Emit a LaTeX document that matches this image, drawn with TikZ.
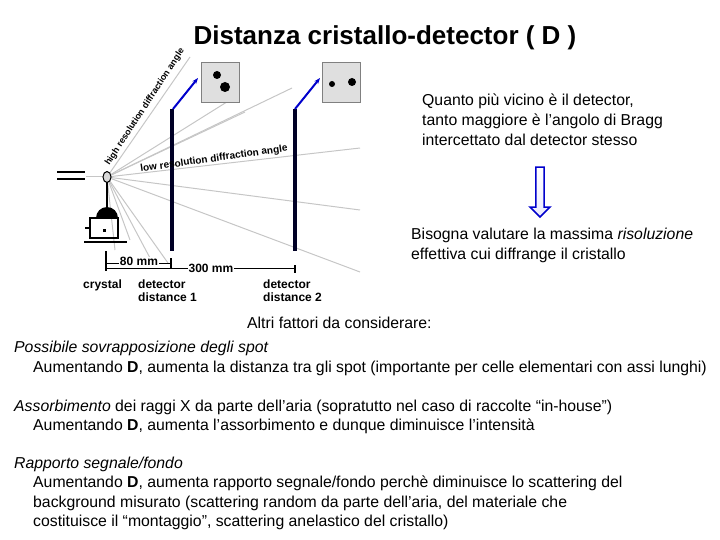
\documentclass[tikz,border=0pt]{standalone}
\usepackage{fontspec}
\setmainfont{Liberation Sans}
\usetikzlibrary{arrows.meta,shapes.arrows}
\begin{document}
\begin{tikzpicture}[x=1pt,y=-1pt,
  txt/.style={anchor=west,inner sep=0pt,font=\fontsize{15.8}{19.5}\selectfont},
  rtxt/.style={inner sep=0pt,align=left,anchor=north west,font=\fontsize{15.8}{20}\selectfont},
  lbl/.style={inner sep=0pt,font=\fontsize{12}{12.5}\selectfont\bfseries},
  ray/.style={gray!45,line width=1pt},
  det/.style={line width=4pt,draw=black!85!blue},
  blue/.style={draw=blue!80!black,line width=2pt,-{Stealth[length=6pt]}}]
\useasboundingbox (0,0) rectangle (720,540);
\node[inner sep=0pt,font=\fontsize{26}{28}\selectfont\bfseries] (title) at (385,38) {Distanza cristallo-detector ( D )};
% rays
\coordinate (c) at (107,177);
\foreach \p in {(190,57),(292,88),(230,100),(360,148),(360,210),(360,272),(168,263),(130,240),(150,258),(245,112),(115,250)}
  \draw[ray] (c) -- \p;
\draw[ray] (86,177) -- (c);
\draw[line width=1.2pt] (57,172) -- (85,172) (57,179) -- (85,179);
% crystal and goniometer
\draw[line width=1pt,fill=gray!30] (107,177) ellipse (4pt and 5.5pt);
\draw[line width=1.2pt] (107,182) -- (107,210);
\fill (96,218) arc (180:360:11) -- cycle;
\draw[line width=1.2pt] (90,218) rectangle (118,238);
\draw[line width=1.2pt] (84,242) -- (127,242) (85,228) -- (90,228);
\fill (103,229) rectangle (106,232);
% detectors
\draw[det] (172,109) -- (172,251);
\draw[det] (295,109) -- (295,251);
\draw[blue] (173,109) -- (198,78);
\draw[blue] (295,109) -- (320,78);
% images
\node[draw=gray,fill=gray!25,minimum width=38pt,minimum height=40pt,inner sep=0pt] (im1) at (220,82) {};
\fill (217,75) circle (4pt) (225,87) circle (5pt);
\node[draw=gray,fill=gray!25,minimum width=38pt,minimum height=40pt,inner sep=0pt] (im2) at (341,82) {};
\fill (332,84) circle (3pt) (352,82) circle (4pt);
% dimension lines
\draw[line width=2pt] (106,251) -- (106,271);
\draw[line width=2pt] (171,258) -- (171,268);
\draw[line width=2pt] (295,265) -- (295,273);
\draw[line width=0.6pt] (106,263) -- (171,263) (106,268) -- (295,268);
\node[lbl,fill=white,inner xsep=1pt] (m80) at (139,261) {80 mm};
\node[lbl,fill=white,inner xsep=1pt] (m300) at (211,268) {300 mm};
\node[lbl,anchor=west] (cry) at (83,285) {crystal};
\node[lbl,align=left,anchor=north west] (d1) at (138,280) {detector\\distance 1};
\node[lbl,align=left,anchor=north west] (d2) at (263,280) {detector\\distance 2};
\node[lbl,rotate=57,font=\fontsize{9}{9}\selectfont\bfseries] (hr) at (145,107) {high resolution diffraction angle};
\node[lbl,rotate=8,font=\fontsize{10}{10}\selectfont\bfseries] (lr) at (214,159) {low resolution diffraction angle};
% right texts
\node[rtxt] (q) at (422,94) {Quanto più vicino è il detector,\\tanto maggiore è l’angolo di Bragg\\intercettato dal detector stesso};
\node[single arrow,shape border rotate=270,draw=blue!80!black,line width=1.5pt,top color=white,bottom color=blue!8,minimum height=50pt,minimum width=20pt,single arrow head extend=4pt,inner sep=2pt] (arr) at (540,190) {};
\node[rtxt] (b) at (411,228) {Bisogna valutare la massima \textit{risoluzione}\\effettiva cui diffrange il cristallo};
% bottom texts
\node[txt] (a) at (247,323) {Altri fattori da considerare:};
\node[txt] (p1) at (14,348) {\textit{Possibile sovrapposizione degli spot}};
\node[txt] (p2) at (33,368) {Aumentando \textbf{D}, aumenta la distanza tra gli spot (importante per celle elementari con assi lunghi)};
\node[txt] (s1) at (14,407) {\textit{Assorbimento} dei raggi X da parte dell’aria (sopratutto nel caso di raccolte “in-house”)};
\node[txt] (s2) at (33,426) {Aumentando \textbf{D}, aumenta l’assorbimento e dunque diminuisce l’intensità};
\node[txt] (r1) at (14,464) {\textit{Rapporto segnale/fondo}};
\node[txt,align=left,anchor=north west] (r2) at (33,476) {Aumentando \textbf{D}, aumenta rapporto segnale/fondo perchè diminuisce lo scattering del\\background misurato (scattering random da parte dell’aria, del materiale che\\costituisce il “montaggio”, scattering anelastico del cristallo)};
\end{tikzpicture}
\end{document}
